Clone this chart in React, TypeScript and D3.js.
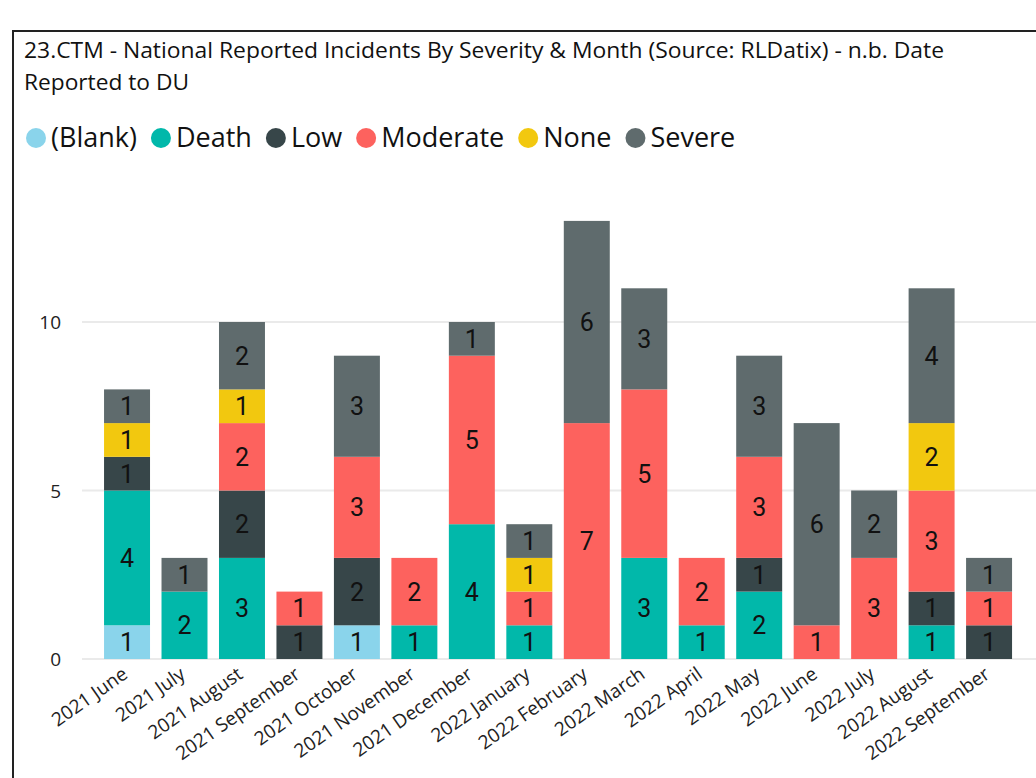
import React, { useEffect, useRef } from "react";
import * as d3 from "d3";

const months = [
  "2021 June", "2021 July", "2021 August", "2021 September", "2021 October",
  "2021 November", "2021 December", "2022 January", "2022 February", "2022 March",
  "2022 April", "2022 May", "2022 June", "2022 July", "2022 August", "2022 September",
];
const severities = ["(Blank)", "Death", "Low", "Moderate", "None", "Severe"];
const colors = ["#8AD4EB", "#01B8AA", "#374649", "#FD625E", "#F2C80F", "#5F6B6D"];

const blankVals = [1, 0, 0, 0, 1, 0, 0, 0, 0, 0, 0, 0, 0, 0, 0, 0];
const deathVals = [4, 2, 3, 0, 0, 1, 4, 1, 0, 3, 1, 2, 0, 0, 1, 0];
const lowVals = [1, 0, 2, 1, 2, 0, 0, 0, 0, 0, 0, 1, 0, 0, 1, 1];
const moderateVals = [0, 0, 2, 1, 3, 2, 5, 1, 7, 5, 2, 3, 1, 3, 3, 1];
const noneVals = [1, 0, 1, 0, 0, 0, 0, 1, 0, 0, 0, 0, 0, 0, 2, 0];
const severeVals = [1, 1, 2, 0, 3, 0, 1, 1, 6, 3, 0, 3, 6, 2, 4, 1];
const yTicks = [0, 5, 10];

const titleLines = [
  "23.CTM - National Reported Incidents By Severity & Month (Source: RLDatix) - n.b. Date",
  "Reported to DU",
];

export default function App() {
  const ref = useRef<SVGSVGElement>(null);

  useEffect(() => {
    const svg = d3.select(ref.current);
    svg.selectAll("*").remove();
    const W = 1036, H = 778;
    const font = "'Open Sans', 'Noto Sans', sans-serif";

    // border
    svg.append("rect").attr("x", 13).attr("y", 31).attr("width", W + 10).attr("height", H)
      .attr("fill", "white").attr("stroke", "#222").attr("stroke-width", 2);

    // title
    titleLines.forEach((t, i) => {
      const el = svg.append("text").attr("x", 24).attr("y", 58 + i * 32).text(t)
        .attr("font-family", font).attr("font-size", 21).attr("fill", "#111");
      if (i === 0) el.attr("textLength", 920).attr("lengthAdjust", "spacingAndGlyphs");
      if (i === 1) el.attr("textLength", 165).attr("lengthAdjust", "spacingAndGlyphs");
    });

    // legend
    let lx = 26;
    severities.forEach((s, i) => {
      svg.append("circle").attr("cx", lx + 10).attr("cy", 138).attr("r", 10).attr("fill", colors[i]);
      const t = svg.append("text").attr("x", lx + 25).attr("y", 147).text(s)
        .attr("font-family", font).attr("font-size", 27).attr("fill", "#111");
      const w = (t.node() as SVGTextElement).getComputedTextLength();
      lx += 25 + w + 14;
    });

    const data = months.map((m, i) => ({
      month: m,
      "(Blank)": blankVals[i], Death: deathVals[i], Low: lowVals[i],
      Moderate: moderateVals[i], None: noneVals[i], Severe: severeVals[i],
    }));

    const x = d3.scaleBand<string>().domain(months).range([98.3, 1017.8]).paddingInner(0.2).paddingOuter(0.1);
    const y = d3.scaleLinear().domain([0, 10]).range([659, 322]);

    // grid
    svg.append("g").selectAll("line").data(yTicks).join("line")
      .attr("x1", 82).attr("x2", W).attr("y1", d => y(d)).attr("y2", d => y(d))
      .attr("stroke", "#eaeaea").attr("stroke-width", 2);
    svg.append("g").selectAll("text").data(yTicks).join("text")
      .attr("x", 61).attr("y", d => y(d) + 7).attr("text-anchor", "end").text(d => d)
      .attr("font-family", font).attr("font-size", 19).attr("fill", "#222");

    const stack = d3.stack<any>().keys(severities)(data);
    const bw = x.bandwidth();
    stack.forEach((layer, li) => {
      const g = svg.append("g");
      layer.forEach((seg, i) => {
        const v = seg[1] - seg[0];
        if (v <= 0) return;
        const cx = x(months[i])!;
        g.append("rect").attr("x", cx).attr("y", y(seg[1])).attr("width", bw)
          .attr("height", y(seg[0]) - y(seg[1])).attr("fill", colors[li]);
        g.append("text").attr("x", cx + bw / 2).attr("y", (y(seg[0]) + y(seg[1])) / 2 + 9)
          .attr("text-anchor", "middle").text(v)
          .attr("font-family", "Roboto, sans-serif").attr("font-size", 25).attr("fill", "#111");
      });
    });

    // x labels
    svg.append("g").selectAll("text").data(months).join("text")
      .attr("transform", d => `translate(${x(d)! + bw / 2 + 2},${677}) rotate(-35)`)
      .attr("text-anchor", "end").text(d => d)
      .attr("font-family", font).attr("font-size", 19).attr("fill", "#222");
  }, []);

  return <svg ref={ref} width={1036} height={778} style={{ position: "absolute", left: 0, top: 0 }} />;
}
